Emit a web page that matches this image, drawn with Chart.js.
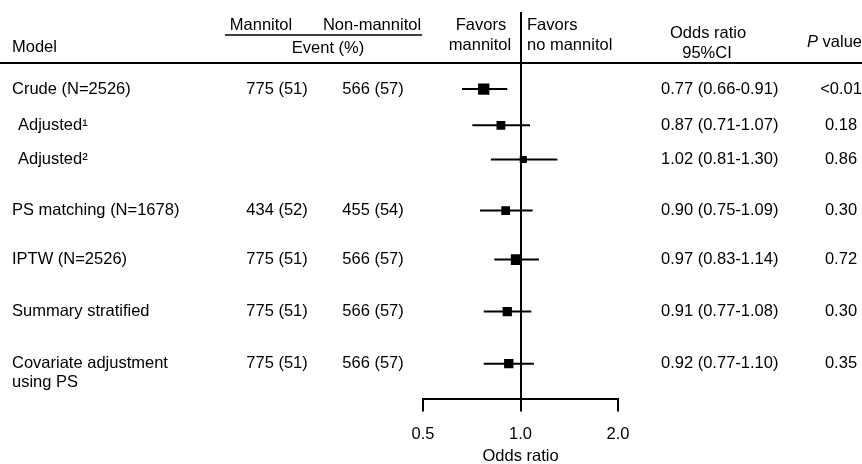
<!DOCTYPE html>
<html>
<head>
<meta charset="utf-8">
<script src="https://cdn.jsdelivr.net/npm/chart.js@4.4.1/dist/chart.umd.min.js"></script>
<style>
  html, body { margin: 0; padding: 0; background: #fff; }
  #wrap { width: 862px; height: 464px; position: relative; }
</style>
</head>
<body>
<div id="wrap"><canvas id="forest"></canvas></div>
<script>
// --- data ---
const models = ['Crude (N=2526)', 'Adjusted\u00b9', 'Adjusted\u00b2', 'PS matching (N=1678)', 'IPTW (N=2526)', 'Summary stratified', 'Covariate adjustment|using PS'];
const mannitolEvents = ['775 (51)', '', '', '434 (52)', '775 (51)', '775 (51)', '775 (51)'];
const nonMannitolEvents = ['566 (57)', '', '', '455 (54)', '566 (57)', '566 (57)', '566 (57)'];
const oddsRatio = [0.77, 0.87, 1.02, 0.90, 0.97, 0.91, 0.92];
const ciLow = [0.66, 0.71, 0.81, 0.75, 0.83, 0.77, 0.77];
const ciHigh = [0.91, 1.07, 1.30, 1.09, 1.14, 1.08, 1.10];
const pValues = ['<0.01', '0.18', '0.86', '0.30', '0.72', '0.30', '0.35'];
const xTicks = [0.5, 1.0, 2.0];

// row slots on the y axis (rows are not evenly spaced in the figure)
const rowPos = [0, 0.71, 1.38, 2.38, 3.34, 4.36, 5.38];
// square size per row (weights)
const boxRadius = [8.0, 6.2, 5.0, 6.2, 7.6, 6.6, 6.6];

const FONT = '"Liberation Sans", Arial, Helvetica, sans-serif';
const FS = 16.5;
Chart.defaults.font.family = FONT;
Chart.defaults.color = '#000';

const ciData = [];
models.forEach((m, i) => {
    ciData.push({ x: ciLow[i], y: rowPos[i] });
    ciData.push({ x: ciHigh[i], y: rowPos[i] });
    ciData.push({ x: ciHigh[i], y: null });
});

// table text + header drawn around the plot
const tablePlugin = {
    id: 'forestTable',
    afterDraw(chart) {
        const ctx = chart.ctx;
        const y = chart.scales.y;
        ctx.save();
        ctx.fillStyle = '#000';
        ctx.strokeStyle = '#000';
        ctx.textBaseline = 'middle';
        ctx.font = FS + 'px ' + FONT;

        const txt = (s, x, yy, align) => { ctx.textAlign = align || 'left'; ctx.fillText(s, x, yy); };

        // header
        txt('Model', 12, 47);
        txt('Mannitol', 261, 25, 'center');
        txt('Non-mannitol', 372, 25, 'center');
        txt('Event (%)', 328, 48, 'center');
        txt('Favors', 481, 25, 'center');
        txt('mannitol', 480, 45, 'center');
        txt('Favors', 527, 25);
        txt('no mannitol', 527, 45);
        txt('Odds ratio', 708, 33, 'center');
        txt('95%CI', 707, 53, 'center');
        ctx.textAlign = 'right';
        ctx.fillText(' value', 862, 42);
        const vw = ctx.measureText(' value').width;
        ctx.font = 'italic ' + FS + 'px ' + FONT;
        ctx.fillText('P', 862 - vw, 42);
        ctx.font = FS + 'px ' + FONT;

        ctx.lineWidth = 1.5;
        ctx.beginPath(); ctx.moveTo(225, 35); ctx.lineTo(422, 35); ctx.stroke();
        ctx.lineWidth = 2;
        ctx.beginPath(); ctx.moveTo(0, 63); ctx.lineTo(862, 63); ctx.stroke();

        // rows
        models.forEach((m, i) => {
            const yy = y.getPixelForValue(rowPos[i]);
            const indent = m.startsWith('Adjusted') ? 18 : 12;
            m.split('|').forEach((line, k) => txt(line, indent, yy + k * 19));
            txt(mannitolEvents[i], 277, yy, 'center');
            txt(nonMannitolEvents[i], 373, yy, 'center');
            txt(oddsRatio[i].toFixed(2) + ' (' + ciLow[i].toFixed(2) + '-' + ciHigh[i].toFixed(2) + ')', 661, yy);
            txt(pValues[i], 841, yy, 'center');
        });
        ctx.restore();
    }
};

new Chart(document.getElementById('forest'), {
    type: 'scatter',
    data: {
        datasets: [
            {
                type: 'line',
                data: ciData,
                borderColor: '#000',
                borderWidth: 2,
                pointRadius: 0,
                spanGaps: false,
                order: 2
            },
            {
                data: oddsRatio.map((v, i) => ({ x: v, y: rowPos[i] })),
                pointStyle: 'rect',
                pointRadius: boxRadius,
                backgroundColor: '#000',
                borderColor: '#000',
                borderWidth: 0,
                order: 1
            }
        ]
    },
    options: {
        responsive: true,
        maintainAspectRatio: false,
        animation: false,
        layout: { padding: { left: 423, right: 244, top: 12, bottom: -2 } },
        plugins: { legend: { display: false }, tooltip: { enabled: false } },
        scales: {
            x: {
                type: 'logarithmic',
                min: 0.5,
                max: 2,
                afterBuildTicks: s => { s.ticks = xTicks.map(v => ({ value: v })); },
                ticks: {
                    callback: v => Number(v).toFixed(1),
                    font: { size: FS },
                    color: '#000',
                    padding: 13,
                    maxRotation: 0,
                    autoSkip: false
                },
                grid: {
                    drawOnChartArea: true,
                    color: c => (c.tick && c.tick.value === 1) ? '#000' : 'rgba(0,0,0,0)',
                    lineWidth: 2,
                    tickLength: 12,
                    tickColor: '#000',
                    tickWidth: 2
                },
                border: { display: true, color: '#000', width: 2 },
                title: { display: true, text: 'Odds ratio', font: { size: FS }, color: '#000', padding: { top: -11, bottom: 0 } }
            },
            y: {
                type: 'linear',
                reverse: true,
                display: false,
                min: -1.51,
                max: 6.08
            }
        }
    },
    plugins: [tablePlugin]
});
</script>
</body>
</html>
